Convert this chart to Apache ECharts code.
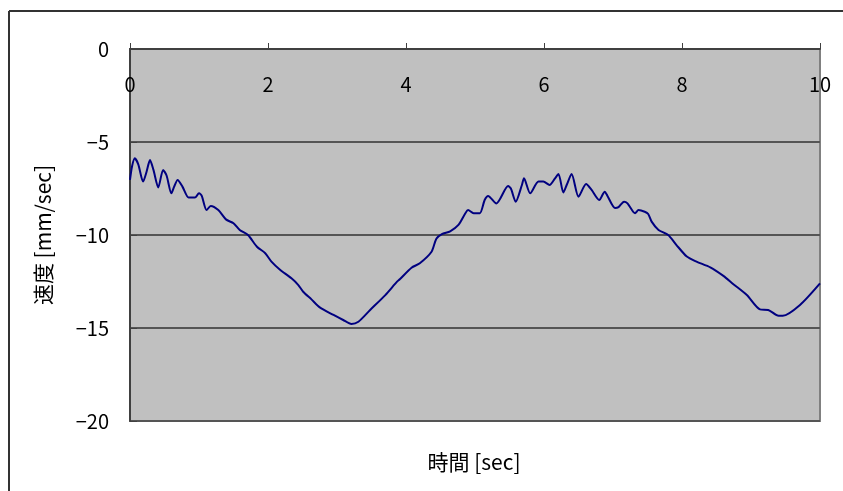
<!DOCTYPE html>
<html>
<head>
<meta charset="utf-8">
<script src="https://cdn.jsdelivr.net/npm/echarts@6/dist/echarts.min.js"></script>
<style>
html,body{margin:0;padding:0;background:#fff;}
#chart{width:843px;height:491px;}
</style>
</head>
<body>
<div id="chart"></div>
<script>
const times = [0.00,0.03,0.07,0.12,0.19,0.24,0.29,0.34,0.41,0.48,0.53,0.60,0.64,0.69,0.76,0.85,0.94,1.00,1.04,1.11,1.17,1.28,1.39,1.50,1.59,1.71,1.84,1.96,2.05,2.17,2.34,2.44,2.51,2.63,2.75,2.95,3.09,3.21,3.31,3.48,3.70,3.87,3.91,4.08,4.20,4.37,4.44,4.52,4.64,4.76,4.86,4.90,4.98,5.07,5.14,5.19,5.31,5.48,5.52,5.59,5.68,5.71,5.80,5.92,5.99,6.08,6.16,6.21,6.28,6.33,6.40,6.50,6.61,6.69,6.80,6.88,6.92,7.03,7.08,7.16,7.21,7.32,7.37,7.46,7.51,7.56,7.66,7.80,7.92,8.07,8.21,8.41,8.60,8.74,8.94,9.13,9.25,9.40,9.46,9.71,10.00];
const speeds = [-7.04,-6.3,-5.88,-6.2,-7.13,-6.6,-5.97,-6.5,-7.44,-6.5,-6.8,-7.76,-7.4,-7.04,-7.4,-7.99,-7.99,-7.76,-7.9,-8.66,-8.44,-8.66,-9.16,-9.37,-9.73,-10.0,-10.63,-10.98,-11.43,-11.85,-12.33,-12.69,-13.05,-13.46,-13.89,-14.30,-14.57,-14.78,-14.66,-14.03,-13.23,-12.51,-12.38,-11.76,-11.52,-10.90,-10.2,-9.95,-9.80,-9.46,-8.83,-8.66,-8.83,-8.83,-8.12,-7.90,-8.30,-7.37,-7.5,-8.21,-7.31,-6.95,-7.76,-7.13,-7.13,-7.31,-6.95,-6.72,-7.72,-7.3,-6.72,-7.94,-7.26,-7.58,-8.12,-7.67,-7.9,-8.55,-8.5,-8.21,-8.3,-8.83,-8.66,-8.75,-8.87,-9.28,-9.73,-10.0,-10.54,-11.16,-11.43,-11.74,-12.20,-12.63,-13.23,-14.0,-14.03,-14.34,-14.34,-13.76,-12.60];
const xTicks = [0,2,4,6,8,10];
const yTicks = [0,-5,-10,-15,-20];
const xTitle = '時間 [sec]';
const yTitle = '速度 [mm/sec]';

const FONT = '"Noto Sans CJK JP", "DejaVu Sans", sans-serif';
const chart = echarts.init(document.getElementById('chart'), null, {renderer:'canvas'});
const data = times.map((t,i)=>[t, speeds[i]]);
chart.setOption({
  animation:false,
  backgroundColor:'#ffffff',
  grid:{left:130,right:23,top:49,bottom:70,show:true,backgroundColor:'#c0c0c0',borderColor:'#808080',borderWidth:2},
  xAxis:{
    type:'value',position:'top',min:xTicks[0],max:xTicks[xTicks.length-1],interval:2,
    axisLine:{show:true,onZero:false,lineStyle:{color:'#404040',width:2}},
    axisTick:{show:true,inside:false,length:6,lineStyle:{color:'#404040',width:1}},
    axisLabel:{inside:true,margin:25,color:'#000',fontSize:20,fontFamily:FONT},
    splitLine:{show:false}
  },
  yAxis:{
    type:'value',min:yTicks[yTicks.length-1],max:yTicks[0],interval:5,
    name:yTitle,nameLocation:'middle',nameGap:76,nameRotate:90,
    nameTextStyle:{color:'#000',fontSize:21,fontFamily:FONT},
    axisLine:{show:true,lineStyle:{color:'#404040',width:2}},
    axisTick:{show:true,inside:true,length:7,lineStyle:{color:'#404040'}},
    axisLabel:{margin:21,color:'#000',fontSize:20,fontFamily:FONT,formatter:v=>String(v).replace('-','\u2212')},
    splitLine:{show:true,lineStyle:{color:'#555555',width:2}}
  },
  series:[{
    type:'line',data:data,showSymbol:false,smooth:0.25,
    lineStyle:{color:'#000080',width:2},
    z:5
  }],
  graphic:[
    {type:'line',shape:{x1:9,y1:11,x2:843,y2:11},style:{stroke:'#333',lineWidth:2},silent:true},
    {type:'line',shape:{x1:9,y1:11,x2:9,y2:491},style:{stroke:'#333',lineWidth:2},silent:true},
    {type:'text',x:474,y:462,style:{text:xTitle,fill:'#000',fontSize:21,fontFamily:FONT,align:'center',verticalAlign:'middle'},silent:true}
  ]
});
</script>
</body>
</html>
